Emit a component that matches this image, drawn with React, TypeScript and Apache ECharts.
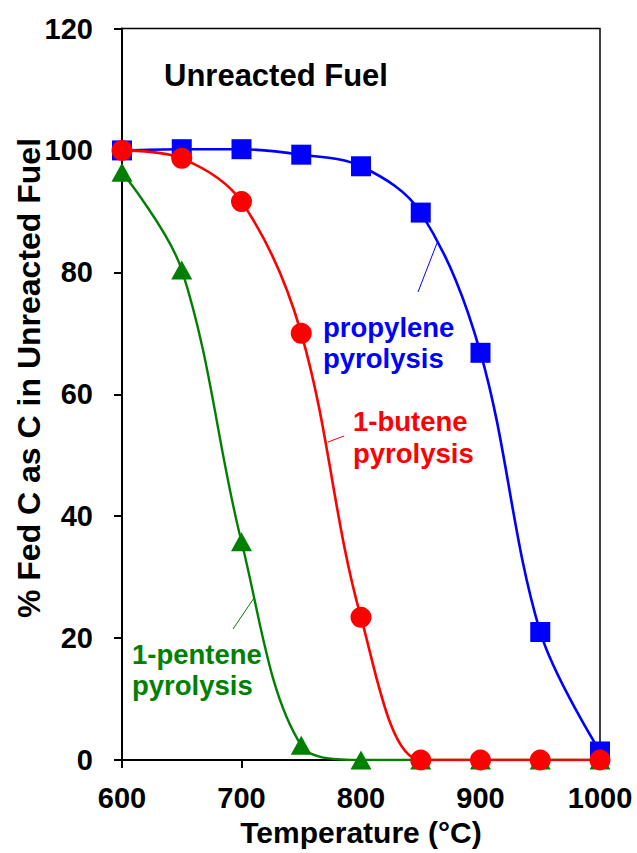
import React, { useEffect, useRef } from "react";
import * as echarts from "echarts";

const temperatures = [600, 650, 700, 750, 800, 850, 900, 950, 1000];
const propylene = [100, 100.2, 100.2, 99.3, 97.4, 89.8, 66.8, 21.0, 1.4];
const butene = [100, 98.7, 91.6, 70.0, 23.4, 0, 0, 0, 0];
const pentene = [96.4, 80.4, 35.8, 2.4, 0, 0, 0, 0, 0];
const xTicks = [600, 700, 800, 900, 1000];
const yTicks = [0, 20, 40, 60, 80, 100, 120];

const FONT = "Liberation Sans, Arial, sans-serif";

const pairs = (ys: number[]) => temperatures.map((t, i) => [t, ys[i]]);

export default function App() {
  const ref = useRef<HTMLDivElement>(null);
  useEffect(() => {
    if (!ref.current) return;
    const chart = echarts.init(ref.current, null, { renderer: "svg" });
    const lineBase = {
      type: "line" as const,
      smooth: 0.35,
      showAllSymbol: true,
      z: 2,
    };
    chart.setOption({
      animation: false,
      backgroundColor: "#ffffff",
      grid: {
        left: 122,
        right: 37,
        top: 28.5,
        bottom: 93,
        show: true,
        borderColor: "#000",
        borderWidth: 1.5,
        backgroundColor: "transparent",
      },
      xAxis: {
        type: "value",
        min: xTicks[0],
        max: xTicks[xTicks.length - 1],
        interval: 100,
        name: "Temperature (°C)",
        nameLocation: "middle",
        nameGap: 57,
        nameTextStyle: { fontFamily: FONT, fontWeight: "bold", fontSize: 30, color: "#000" },
        axisLine: { lineStyle: { color: "#000", width: 2 } },
        axisTick: { show: true, inside: false, length: 8, lineStyle: { color: "#000", width: 2 } },
        axisLabel: {
          margin: 23,
          fontFamily: FONT,
          fontWeight: "bold",
          fontSize: 29,
          color: "#000",
          formatter: (v: number) => String(v),
        },
        splitLine: { show: false },
      },
      yAxis: {
        type: "value",
        min: yTicks[0],
        max: yTicks[yTicks.length - 1],
        interval: 20,
        axisLine: { lineStyle: { color: "#000", width: 2 } },
        axisTick: { show: true, inside: false, length: 8, lineStyle: { color: "#000", width: 2 } },
        axisLabel: { margin: 29, fontFamily: FONT, fontWeight: "bold", fontSize: 29, color: "#000" },
        splitLine: { show: false },
      },
      series: [
        {
          ...lineBase,
          name: "propylene pyrolysis",
          data: pairs(propylene),
          symbol: "rect",
          symbolSize: 20,
          lineStyle: { color: "#0000ff", width: 2.6 },
          itemStyle: { color: "#0000ff" },
        },
        {
          ...lineBase,
          name: "1-pentene pyrolysis",
          data: pairs(pentene),
          symbol: "triangle",
          symbolSize: [21, 19],
          lineStyle: { color: "#008000", width: 2.4 },
          itemStyle: { color: "#008000" },
        },
        {
          ...lineBase,
          name: "1-butene pyrolysis",
          data: pairs(butene),
          symbol: "circle",
          symbolSize: 21,
          lineStyle: { color: "#ff0000", width: 2.6 },
          itemStyle: { color: "#ff0000" },
        },
      ],
      graphic: [
        {
          type: "text",
          x: 29,
          y: 378,
          rotation: Math.PI / 2,
          style: {
            text: "% Fed C as C in Unreacted Fuel",
            font: `bold 32px ${FONT}`,
            fill: "#000",
            textAlign: "center",
            textVerticalAlign: "middle",
          },
        },
        {
          type: "text",
          x: 164,
          y: 75,
          style: {
            text: "Unreacted Fuel",
            font: `bold 31px ${FONT}`,
            fill: "#000",
            textAlign: "left",
            textVerticalAlign: "middle",
          },
        },
        {
          type: "text",
          x: 323,
          y: 312,
          style: {
            text: "propylene\npyrolysis",
            font: `bold 27.5px ${FONT}`,
            lineHeight: 31,
            fill: "#0000ff",
            textAlign: "left",
            textVerticalAlign: "top",
          },
        },
        {
          type: "line",
          shape: { x1: 418, y1: 292, x2: 437, y2: 243 },
          style: { stroke: "#0000ff", lineWidth: 1 },
        },
        {
          type: "text",
          x: 353,
          y: 405,
          style: {
            text: "1-butene\npyrolysis",
            font: `bold 27.5px ${FONT}`,
            lineHeight: 32,
            fill: "#ff0000",
            textAlign: "left",
            textVerticalAlign: "top",
          },
        },
        {
          type: "line",
          shape: { x1: 328, y1: 442, x2: 344, y2: 436 },
          style: { stroke: "#ff0000", lineWidth: 1 },
        },
        {
          type: "text",
          x: 132,
          y: 639,
          style: {
            text: "1-pentene\npyrolysis",
            font: `bold 27.5px ${FONT}`,
            lineHeight: 31,
            fill: "#008000",
            textAlign: "left",
            textVerticalAlign: "top",
          },
        },
        {
          type: "line",
          shape: { x1: 233, y1: 629, x2: 254, y2: 598 },
          style: { stroke: "#008000", lineWidth: 1 },
        },
      ],
    });
    return () => chart.dispose();
  }, []);
  return (
    <div
      ref={ref}
      style={{ position: "fixed", left: 0, top: 0, width: 637, height: 853, background: "#fff" }}
    />
  );
}
